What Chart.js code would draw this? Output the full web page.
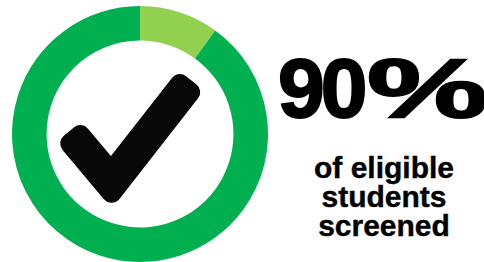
<!DOCTYPE html>
<html>
<head>
<meta charset="utf-8">
<script src="https://cdn.jsdelivr.net/npm/chart.js@4/dist/chart.umd.min.js"></script>
<style>
  html, body { margin: 0; padding: 0; background: #ffffff; }
  body { width: 484px; height: 262px; position: relative; overflow: hidden; font-family: "Liberation Sans", Arial, sans-serif; }
  #wrap { position: absolute; left: 12px; top: 6px; width: 256px; height: 256px; }
  #big { position: absolute; left: 278px; top: 46px; font-size: 84px; line-height: 85px; font-weight: bold; color: #000; white-space: nowrap; letter-spacing: -4px; -webkit-text-stroke: 2px #000; }
  #big .pct { display: inline-block; transform: scaleX(1.62); transform-origin: left center; letter-spacing: 0; margin-left: 4px; }
  #sub { position: absolute; left: 284px; top: 153px; width: 200px; text-align: center; font-size: 30px; line-height: 29px; font-weight: bold; color: #000; -webkit-text-stroke: 0.4px #000; }
</style>
</head>
<body>
<div id="wrap"><canvas id="c"></canvas></div>
<div id="big"><span id="num"></span><span class="pct">%</span></div>
<div id="sub"></div>
<script>
const categories = ["Not screened", "Screened"];
const values = [10, 90];
const colors = ["#92D050", "#00B050"];
const headline = values[1];
const subLines = ["of eligible", "students", "screened"];

document.getElementById("num").textContent = String(headline);
const sub = document.getElementById("sub");
subLines.forEach(function (t) { const d = document.createElement("div"); d.textContent = t; sub.appendChild(d); });

const checkPlugin = {
  id: "check",
  afterDatasetsDraw(chart) {
    const arc = chart.getDatasetMeta(0).data[0];
    if (!arc) return;
    const ctx = chart.ctx;
    const s = arc.outerRadius / 127.5;
    const cx = arc.x, cy = arc.y;
    const P = function (dx, dy) { return { x: cx + dx * s, y: cy + dy * s }; };
    const L = P(-70.9, -2.4), V = P(-28.5, 48.2), R = P(51, -53.6);
    const w = 33 * s, r = 10 * s, h = w / 2 - r;
    const unit = function (a, b) { const dx = b.x - a.x, dy = b.y - a.y, l = Math.hypot(dx, dy); return { x: dx / l, y: dy / l }; };
    const d1 = unit(L, V), d2 = unit(V, R);
    const L2 = { x: L.x + d1.x * r, y: L.y + d1.y * r };
    const R2 = { x: R.x - d2.x * r, y: R.y - d2.y * r };
    const n1 = { x: -d1.y, y: d1.x }, n2 = { x: -d2.y, y: d2.x };
    const k = h / (1 + n1.x * n2.x + n1.y * n2.y);
    const m = { x: (n1.x + n2.x) * k, y: (n1.y + n2.y) * k };
    const pts = [
      { x: L2.x + n1.x * h, y: L2.y + n1.y * h },
      { x: V.x + m.x, y: V.y + m.y },
      { x: R2.x + n2.x * h, y: R2.y + n2.y * h },
      { x: R2.x - n2.x * h, y: R2.y - n2.y * h },
      { x: V.x - m.x, y: V.y - m.y },
      { x: L2.x - n1.x * h, y: L2.y - n1.y * h }
    ];
    ctx.save();
    ctx.beginPath();
    pts.forEach(function (p, i) { if (i === 0) ctx.moveTo(p.x, p.y); else ctx.lineTo(p.x, p.y); });
    ctx.closePath();
    ctx.fillStyle = "#080808";
    ctx.strokeStyle = "#080808";
    ctx.lineWidth = 2 * r;
    ctx.lineJoin = "round";
    ctx.fill();
    ctx.stroke();
    ctx.restore();
  }
};

new Chart(document.getElementById("c"), {
  type: "doughnut",
  data: {
    labels: categories,
    datasets: [{ data: values, backgroundColor: colors, borderWidth: 0, hoverOffset: 0 }]
  },
  options: {
    responsive: true,
    maintainAspectRatio: false,
    animation: false,
    cutout: "73%",
    layout: { padding: 0 },
    plugins: { legend: { display: false }, tooltip: { enabled: false }, title: { display: false } },
    events: []
  },
  plugins: [checkPlugin]
});
</script>
</body>
</html>
